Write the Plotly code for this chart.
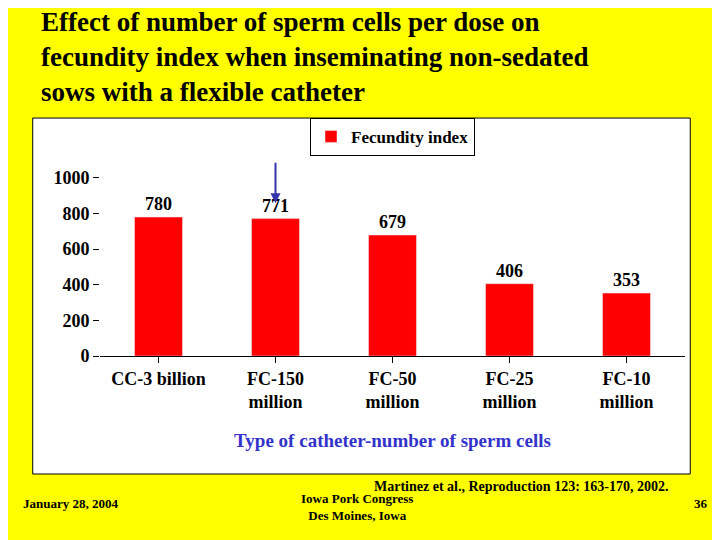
import plotly.graph_objects as go

categories = ["CC-3 billion", "FC-150<br>million", "FC-50<br>million", "FC-25<br>million", "FC-10<br>million"]
fecundity = [780, 771, 679, 406, 353]

serif = "Liberation Serif"

fig = go.Figure(data=[
    go.Bar(x=categories, y=fecundity, name="Fecundity index", marker_color="#ff0000",
           width=0.41, text=["<b>%d</b>" % v for v in fecundity], textposition="outside",
           textfont=dict(family=serif, size=18, color="black"), cliponaxis=False),
])

fig.update_layout(
    width=720, height=540,
    paper_bgcolor="#ffff00", plot_bgcolor="white",
    margin=dict(l=92, r=43, t=152, b=192),
    font=dict(family=serif, size=18, color="black"),
    showlegend=True,
    legend=dict(x=0.5, y=1.215, xanchor="center", yanchor="top", bgcolor="white",
                bordercolor="black", borderwidth=1,
                font=dict(family=serif, size=17, color="black", weight="bold")),
    shapes=[dict(type="rect", xref="paper", yref="paper", x0=-0.115, x1=1.009, y0=-0.602, y1=1.214,
                 fillcolor="white", line=dict(color="black", width=1), layer="below")],
    annotations=[
        dict(text="<b>Effect of number of sperm cells per dose on<br>fecundity index when inseminating non-sedated<br>sows with a flexible catheter</b>",
             xref="paper", yref="paper", x=-0.105, y=1.79, xanchor="left", yanchor="top", align="left",
             showarrow=False, font=dict(family=serif, size=27, color="black")),
        dict(x=1, y=857, ax=0, ay=-42, xref="x", yref="y", text="", showarrow=True,
             arrowhead=2, arrowsize=1, arrowwidth=2, arrowcolor="#3333aa"),
        dict(text="<b>Martinez et al., Reproduction 123: 163-170, 2002.</b>", xref="paper", yref="paper",
             x=0.72, y=-0.715, xanchor="center", showarrow=False, font=dict(family=serif, size=14)),
        dict(text="<b>January 28, 2004</b>", xref="paper", yref="paper",
             x=-0.05, y=-0.80, xanchor="center", showarrow=False, font=dict(family=serif, size=13)),
        dict(text="<b>Iowa Pork Congress<br>Des Moines, Iowa</b>", xref="paper", yref="paper",
             x=0.44, y=-0.86, xanchor="center", showarrow=False, font=dict(family=serif, size=13)),
        dict(text="<b>36</b>", xref="paper", yref="paper",
             x=1.028, y=-0.80, xanchor="center", showarrow=False, font=dict(family=serif, size=13)),
    ],
)
fig.update_xaxes(showline=True, linecolor="black", ticks="outside", ticklen=6, tickcolor="black",
                 tickfont=dict(family=serif, size=18, weight="bold"),
                 title=dict(text="<b>Type of catheter-number of sperm cells</b>",
                            font=dict(family=serif, size=19, color="#3333cc"), standoff=22))
fig.update_yaxes(range=[0, 1100], tickvals=[0, 200, 400, 600, 800, 1000], showgrid=False,
                 ticks="outside", ticklen=6, tickcolor="black", zeroline=False,
                 tickfont=dict(family=serif, size=18, weight="bold"))

fig.write_html("out.html")
